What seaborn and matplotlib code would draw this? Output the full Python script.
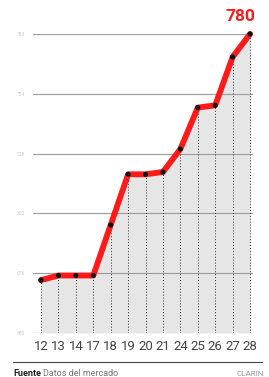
import numpy as np
import pandas as pd
import seaborn as sns
import matplotlib.pyplot as plt

# Data
days = ["12", "13", "14", "17", "18", "19", "20", "21", "24", "25", "26", "27", "28"]
values = [673, 675, 675, 675, 697, 719, 719, 720, 730, 748, 749, 770, 780]
y_ticks = [650, 676, 702, 728, 754, 780]

df = pd.DataFrame({"pos": np.arange(len(days)), "day": days, "value": values})

sns.set_style("white")
plt.rcParams['font.family'] = ['Roboto', 'DejaVu Sans']

fig = plt.figure(figsize=(2.69, 3.77), dpi=100)
ax = fig.add_axes([33 / 269, 44 / 377, 220 / 269, 299 / 377])

# gray area under the line
ax.fill_between(df["pos"], df["value"], 650, color="#e6e6e6", lw=0, zorder=1)

# horizontal grid lines (the base one is only a short tick)
for t in y_ticks[1:]:
    ax.axhline(t, color="#a0a0a0", lw=0.9, zorder=2)
ax.axhline(650, xmin=0, xmax=0.045, color="#a0a0a0", lw=0.9, zorder=2)

# dotted drop lines
ax.vlines(df["pos"], 650, df["value"], colors="#333333", linestyles=(0, (1, 2)),
          lw=0.7, zorder=2)

sns.lineplot(data=df, x="pos", y="value", ax=ax, color="#ff1a1a", lw=4.2,
             zorder=3, clip_on=False)
sns.scatterplot(data=df, x="pos", y="value", ax=ax, color="#111111", s=14,
                zorder=4, clip_on=False, edgecolor="none")

ax.set_xlim(-0.46, 12.17)
ax.set_ylim(650, 780)
ax.set_xticks(df["pos"])
ax.set_xticklabels(days, fontsize=9.5, color="#444444")
ax.set_yticks(y_ticks)
ax.set_yticklabels([str(t) for t in y_ticks], fontsize=3.5, color="#c8c8c8")
ax.tick_params(axis="x", length=0, pad=5)
ax.tick_params(axis="y", length=0, pad=6)
ax.set_xlabel("")
ax.set_ylabel("")
for s in ax.spines.values():
    s.set_visible(False)

# last value label
ax.text(11.45, 784.5, "780", color="#ff1a1a", fontsize=12.5, fontweight="bold",
        ha="center", va="bottom")

# footer
fig.add_artist(plt.Line2D([13 / 269, 262 / 269], [1 - 362 / 377] * 2,
                          color="#444444", lw=0.8))
fig.text(13 / 269, 1 - 374 / 377, "Fuente", fontsize=6.5, fontweight="bold",
         color="#222222", va="center")
fig.text(43 / 269, 1 - 374 / 377, "Datos del mercado", fontsize=6.5,
         color="#777777", va="center")
fig.text(264 / 269, 1 - 374 / 377, "CLARIN", fontsize=5.8, color="#999999",
         va="center", ha="right")

fig.savefig("out.png", dpi=100)
